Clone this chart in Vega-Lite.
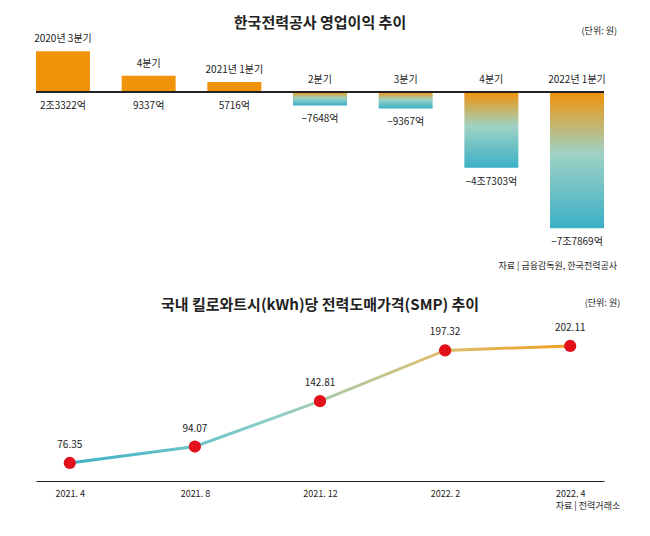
{
  "$schema": "https://vega.github.io/schema/vega-lite/v6.json",
  "padding": {"left": 34, "top": 16, "right": 10, "bottom": 0},
  "spacing": 27,
  "config": {
    "view": {"stroke": null},
    "font": "Noto Sans CJK KR",
    "text": {"font": "Noto Sans CJK KR", "fontSize": 10, "color": "#222"},
    "title": {"font": "Noto Sans CJK KR", "fontSize": 15, "fontWeight": "bold", "color": "#222", "anchor": "middle", "offset": 6}
  },
  "vconcat": [
    {
      "title": {"text": "한국전력공사 영업이익 추이", "offset": -9},
      "width": 568,
      "height": 245,
      "data": {"values": [
        {"q": "q1", "name": "2020년 3분기", "value": 23332, "label": "2조3322억"},
        {"q": "q2", "name": "4분기", "value": 9337, "label": "9337억"},
        {"q": "q3", "name": "2021년 1분기", "value": 5716, "label": "5716억"},
        {"q": "q4", "name": "2분기", "value": -7648, "label": "−7648억"},
        {"q": "q5", "name": "3분기", "value": -9367, "label": "−9367억"},
        {"q": "q6", "name": "4분기", "value": -43303, "label": "−4조7303억"},
        {"q": "q7", "name": "2022년 1분기", "value": -77869, "label": "−7조7869억"}
      ]},
      "encoding": {
        "x": {"field": "q", "type": "nominal", "axis": null, "sort": null,
              "scale": {"paddingInner": 0.37, "paddingOuter": 0}}
      },
      "layer": [
        {
          "transform": [{"filter": "datum.value > 0"}],
          "mark": {"type": "bar", "color": "#F0920A"},
          "encoding": {"y": {"field": "value", "type": "quantitative", "axis": null, "scale": {"domain": [-98400, 33300]}}}
        },
        {
          "transform": [{"filter": "datum.value < 0"}],
          "mark": {"type": "bar", "color": {"gradient": "linear", "x1": 0, "y1": 0, "x2": 0, "y2": 1,
            "stops": [{"offset": 0, "color": "#F0920A"}, {"offset": 0.45, "color": "#9FD2C4"}, {"offset": 1, "color": "#3BB0C6"}]}},
          "encoding": {"y": {"field": "value", "type": "quantitative"}}
        },
        {
          "mark": {"type": "rule", "color": "#222", "strokeWidth": 1},
          "encoding": {"y": {"datum": 0}, "x": null}
        },
        {
          "transform": [{"filter": "datum.value > 0"}],
          "mark": {"type": "text", "dy": -12},
          "encoding": {"y": {"field": "value", "type": "quantitative"}, "text": {"field": "name"}}
        },
        {
          "transform": [{"filter": "datum.value < 0"}],
          "mark": {"type": "text", "dy": -12},
          "encoding": {"y": {"datum": 0}, "text": {"field": "name"}}
        },
        {
          "transform": [{"filter": "datum.value > 0"}],
          "mark": {"type": "text", "dy": 14},
          "encoding": {"y": {"datum": 0}, "text": {"field": "label"}}
        },
        {
          "transform": [{"filter": "datum.value < 0"}],
          "mark": {"type": "text", "dy": 14},
          "encoding": {"y": {"field": "value", "type": "quantitative"}, "text": {"field": "label"}}
        },
        {
          "data": {"values": [{"q": "q7", "note": "(단위: 원)", "y": 34900}, {"q": "q7", "note": "자료 | 금융감독원, 한국전력공사", "y": -99400}]},
          "mark": {"type": "text", "align": "right", "dx": 40, "fontSize": 9},
          "encoding": {"y": {"field": "y", "type": "quantitative"}, "text": {"field": "note"}}
        }
      ]
    },
    {
      "title": {"text": "국내 킬로와트시(kWh)당 전력도매가격(SMP) 추이", "offset": -14},
      "width": 568,
      "height": 181,
      "data": {"values": [
        {"month": "2021. 4", "price": 76.35},
        {"month": "2021. 8", "price": 94.07},
        {"month": "2021. 12", "price": 142.81},
        {"month": "2022. 2", "price": 197.32},
        {"month": "2022. 4", "price": 202.11}
      ]},
      "encoding": {
        "x": {"field": "month", "type": "ordinal", "sort": null, "title": null,
              "scale": {"type": "point", "padding": 0.27},
              "axis": {"labelAngle": 0, "ticks": false, "domainColor": "#222", "labelFontSize": 9, "labelColor": "#222", "labelPadding": 8, "labelFont": "Noto Sans CJK KR"}},
        "y": {"field": "price", "type": "quantitative", "axis": null, "scale": {"domain": [57, 251.5]}}
      },
      "layer": [
        {
          "mark": {"type": "line", "strokeWidth": 3, "color": {"gradient": "linear", "x1": 0, "y1": 0, "x2": 1, "y2": 0,
            "stops": [{"offset": 0, "color": "#3BB0C6"}, {"offset": 0.4, "color": "#8CCFC9"}, {"offset": 0.7, "color": "#D9C27A"}, {"offset": 1, "color": "#F0A020"}]}}
        },
        {"mark": {"type": "circle", "color": "#E2101A", "opacity": 1, "size": 150}},
        {
          "mark": {"type": "text", "dy": -18},
          "encoding": {"text": {"field": "price", "format": ".2f"}}
        },
        {
          "data": {"values": [{"month": "2022. 4", "note": "(단위: 원)", "y": 248}, {"month": "2022. 4", "note": "자료 | 전력거래소", "y": 30}]},
          "mark": {"type": "text", "align": "right", "dx": 50, "fontSize": 9},
          "encoding": {"y": {"field": "y", "type": "quantitative"}, "text": {"field": "note"}}
        }
      ]
    }
  ]
}
